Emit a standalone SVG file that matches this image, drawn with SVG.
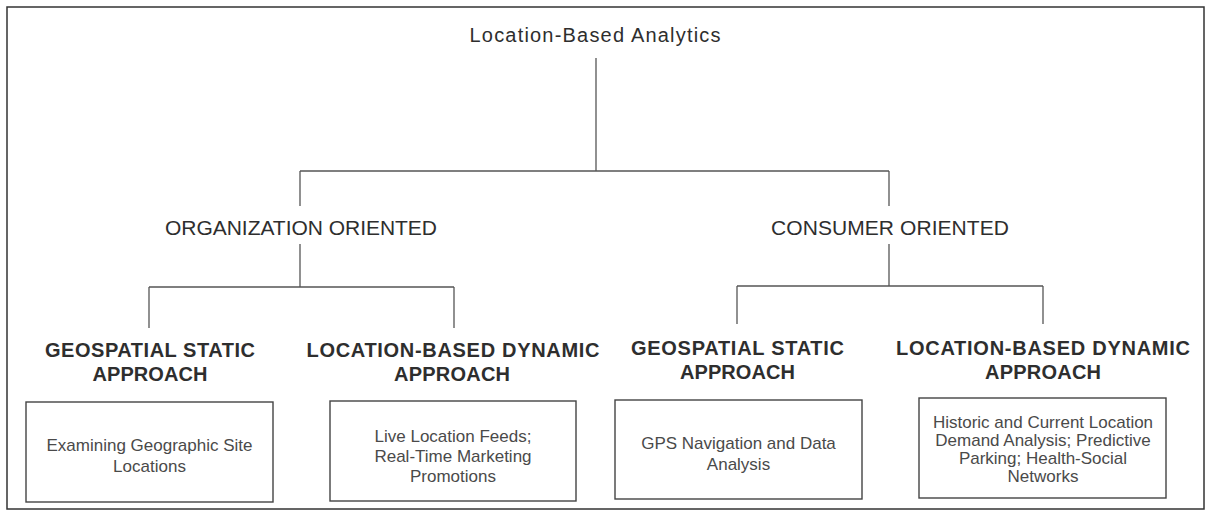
<svg xmlns="http://www.w3.org/2000/svg" width="1208" height="513" viewBox="0 0 1208 513">
<style>
.t{font-family:"Liberation Sans",Arial,sans-serif;fill:#2e2e2e;text-anchor:middle}
.title{font-size:20px}
.ori{font-size:21px}
.head{font-size:20px;font-weight:bold}
.body{font-size:17px;fill:#4a4a4a}
.ln{stroke:#555;stroke-width:1.3;fill:none}
.box{stroke:#444;stroke-width:1.4;fill:#fff}
</style>
<rect x="7" y="7" width="1197" height="502" fill="#fff" stroke="#333" stroke-width="1.5"/>
<g id="connectors">
<line class="ln" x1="596" y1="58" x2="596" y2="171"/>
<line class="ln" x1="300" y1="171" x2="889" y2="171"/>
<line class="ln" x1="300" y1="171" x2="300" y2="206"/>
<line class="ln" x1="889" y1="171" x2="889" y2="206"/>
<line class="ln" x1="300" y1="244" x2="300" y2="287"/>
<line class="ln" x1="149" y1="287" x2="454" y2="287"/>
<line class="ln" x1="149" y1="287" x2="149" y2="328"/>
<line class="ln" x1="454" y1="287" x2="454" y2="328"/>
<line class="ln" x1="889" y1="244" x2="889" y2="286"/>
<line class="ln" x1="737" y1="286" x2="1043" y2="286"/>
<line class="ln" x1="737" y1="286" x2="737" y2="324"/>
<line class="ln" x1="1043" y1="286" x2="1043" y2="324"/>
</g>
<g id="root"><text class="t title" x="595" y="42" textLength="251" lengthAdjust="spacing">Location-Based Analytics</text></g>
<g id="org"><text class="t ori" x="301" y="235" textLength="272" lengthAdjust="spacing">ORGANIZATION ORIENTED</text></g>
<g id="con"><text class="t ori" x="890" y="235" textLength="238" lengthAdjust="spacing">CONSUMER ORIENTED</text></g>
<g id="org-static">
<text class="t head" x="150" y="357" textLength="210" lengthAdjust="spacing">GEOSPATIAL STATIC</text>
<text class="t head" x="150" y="381" textLength="115" lengthAdjust="spacing">APPROACH</text>
</g>
<g id="org-dynamic">
<text class="t head" x="453" y="357" textLength="293" lengthAdjust="spacing">LOCATION-BASED DYNAMIC</text>
<text class="t head" x="452" y="381" textLength="116" lengthAdjust="spacing">APPROACH</text>
</g>
<g id="con-static">
<text class="t head" x="737.5" y="355" textLength="213" lengthAdjust="spacing">GEOSPATIAL STATIC</text>
<text class="t head" x="737.5" y="379" textLength="115" lengthAdjust="spacing">APPROACH</text>
</g>
<g id="con-dynamic">
<text class="t head" x="1043" y="355" textLength="294" lengthAdjust="spacing">LOCATION-BASED DYNAMIC</text>
<text class="t head" x="1043" y="379" textLength="116" lengthAdjust="spacing">APPROACH</text>
</g>
<g id="box1">
<rect class="box" x="26" y="402" width="247" height="100"/>
<text class="t body" x="149.5" y="451">Examining Geographic Site</text>
<text class="t body" x="149.5" y="472">Locations</text>
</g>
<g id="box2">
<rect class="box" x="330" y="401" width="246" height="100"/>
<text class="t body" x="453" y="442">Live Location Feeds;</text>
<text class="t body" x="453" y="462">Real-Time Marketing</text>
<text class="t body" x="453" y="482">Promotions</text>
</g>
<g id="box3">
<rect class="box" x="615" y="400" width="247" height="99"/>
<text class="t body" x="738.5" y="449">GPS Navigation and Data</text>
<text class="t body" x="738.5" y="470">Analysis</text>
</g>
<g id="box4">
<rect class="box" x="919" y="398" width="247" height="100"/>
<text class="t body" x="1043" y="428">Historic and Current Location</text>
<text class="t body" x="1043" y="446">Demand Analysis; Predictive</text>
<text class="t body" x="1043" y="464">Parking; Health-Social</text>
<text class="t body" x="1043" y="482">Networks</text>
</g>
</svg>
